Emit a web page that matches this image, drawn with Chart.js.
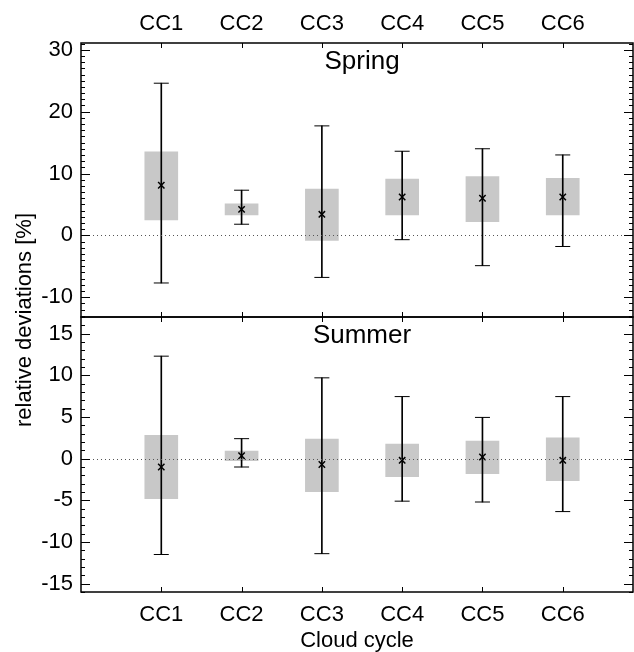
<!DOCTYPE html>
<html>
<head>
<meta charset="utf-8">
<script src="https://cdn.jsdelivr.net/npm/chart.js@4/dist/chart.umd.min.js"></script>
<style>
body { margin: 0; background: #fff; }
#wrap { position: relative; width: 634px; height: 652px; }
canvas { position: absolute; left: 0; top: 0; }
</style>
</head>
<body>
<div id="wrap">
<canvas id="spring" width="634" height="652"></canvas>
<canvas id="summer" width="634" height="652"></canvas>
</div>
<script>
const categories = ['CC1', 'CC2', 'CC3', 'CC4', 'CC5', 'CC6'];

// Spring
const springMean = [8.1, 4.2, 3.4, 6.2, 6.0, 6.2];
const springBoxLow = [2.5, 3.3, -0.8, 3.3, 2.2, 3.3];
const springBoxHigh = [13.5, 5.1, 7.5, 9.1, 9.5, 9.2];
const springMin = [-7.7, 1.8, -6.8, -0.7, -4.9, -1.8];
const springMax = [24.6, 7.3, 17.7, 13.6, 14.0, 13.0];
const springTicks = [-10, 0, 10, 20, 30];

// Summer
const summerMean = [-1.0, 0.35, -0.7, -0.2, 0.2, -0.2];
const summerBoxLow = [-4.8, -0.25, -3.95, -2.15, -1.8, -2.65];
const summerBoxHigh = [2.8, 0.9, 2.35, 1.75, 2.1, 2.5];
const summerMin = [-11.5, -1.0, -11.4, -5.1, -5.2, -6.35];
const summerMax = [12.3, 2.4, 9.7, 7.45, 4.95, 7.45];
const summerTicks = [-15, -10, -5, 0, 5, 10, 15];

const FONT = '"Liberation Sans", Arial, Helvetica, sans-serif';
Chart.defaults.font.family = FONT;
Chart.defaults.font.size = 22;
Chart.defaults.color = '#000';

const framePlugin = {
    id: 'frame',
    afterDatasetsDraw(chart, args, opts) {
        const ctx = chart.ctx;
        const a = chart.chartArea;
        const y0 = Math.round(chart.scales.y.getPixelForValue(0)) + 0.5;
        ctx.save();
        ctx.strokeStyle = '#555';
        ctx.lineWidth = 1;
        ctx.setLineDash([1, 3]);
        ctx.beginPath();
        ctx.moveTo(a.left, y0);
        ctx.lineTo(a.right, y0);
        ctx.stroke();
        ctx.restore();
    },
    afterDraw(chart, args, opts) {
        const ctx = chart.ctx;
        const a = chart.chartArea;
        const xs = chart.scales.x;
        const ys = chart.scales.y;
        ctx.save();
        ctx.strokeStyle = '#000';
        ctx.lineWidth = 1.5;
        ctx.strokeRect(a.left, a.top, a.right - a.left, a.bottom - a.top);
        ctx.lineWidth = 1;
        ctx.beginPath();
        categories.forEach((c, i) => {
            const px = Math.round(xs.getPixelForValue(i + 1)) + 0.5;
            ctx.moveTo(px, a.top);
            ctx.lineTo(px, a.top + 5);
            ctx.moveTo(px, a.bottom);
            ctx.lineTo(px, a.bottom - 5);
        });
        for (let v = Math.ceil(ys.min); v <= Math.floor(ys.max); v++) {
            const py = Math.round(ys.getPixelForValue(v)) + 0.5;
            const len = v % opts.major === 0 ? 9 : 4;
            ctx.moveTo(a.left, py);
            ctx.lineTo(a.left + len, py);
            ctx.moveTo(a.right, py);
            ctx.lineTo(a.right - len, py);
        }
        ctx.stroke();
        ctx.fillStyle = '#000';
        ctx.font = '26px ' + FONT;
        ctx.textAlign = 'center';
        ctx.textBaseline = 'middle';
        ctx.fillText(opts.label, xs.getPixelForValue(3.5), a.top + 19);
        if (opts.yTitle) {
            ctx.font = '22px ' + FONT;
            ctx.translate(25, 320);
            ctx.rotate(-Math.PI / 2);
            ctx.fillText(opts.yTitle, 0, 0);
        }
        ctx.restore();
    }
};

function makePanel(canvasId, p) {
    const xs = categories.map((c, i) => i + 1);
    const caps = xs.map((x, i) => ({ x: x, y: p.max[i] }))
        .concat(xs.map((x, i) => ({ x: x, y: p.min[i] })));
    return new Chart(document.getElementById(canvasId), {
        type: 'bar',
        data: {
            datasets: [{
                label: 'box',
                data: xs.map((x, i) => ({ x: x, y: [p.boxLow[i], p.boxHigh[i]] })),
                backgroundColor: '#c8c8c8',
                barThickness: 33,
                grouped: false,
                order: 4
            }, {
                label: 'range',
                data: xs.map((x, i) => ({ x: x, y: [p.min[i], p.max[i]] })),
                backgroundColor: '#000',
                barThickness: 1,
                grouped: false,
                order: 3
            }, {
                type: 'line',
                label: 'caps',
                data: caps,
                showLine: false,
                pointStyle: 'line',
                pointRadius: 7.5,
                pointBorderWidth: 1,
                borderColor: '#000',
                order: 2
            }, {
                type: 'line',
                label: 'mean',
                data: xs.map((x, i) => ({ x: x, y: p.mean[i] })),
                showLine: false,
                pointStyle: 'crossRot',
                pointRadius: 4.5,
                pointBorderWidth: 1.5,
                borderColor: '#000',
                order: 1
            }]
        },
        options: {
            responsive: false,
            animation: false,
            events: [],
            layout: { padding: p.padding, autoPadding: false },
            plugins: {
                legend: { display: false },
                tooltip: { enabled: false },
                frame: { label: p.label, major: p.major, yTitle: p.yTitle }
            },
            scales: {
                x: {
                    type: 'linear',
                    position: p.xPos,
                    offset: false,
                    min: 0,
                    max: 6.875,
                    afterBuildTicks: s => { s.ticks = xs.map(v => ({ value: v })); },
                    afterFit: s => { s.height = p.xHeight; },
                    ticks: {
                        callback: v => categories[v - 1],
                        padding: p.xPad,
                        maxRotation: 0,
                        autoSkip: false
                    },
                    grid: { display: false, drawTicks: false },
                    border: { display: false },
                    title: p.xTitle
                        ? { display: true, text: p.xTitle, padding: { top: 0, bottom: -2 } }
                        : { display: false }
                },
                y: {
                    type: 'linear',
                    min: p.yMin,
                    max: p.yMax,
                    afterBuildTicks: s => { s.ticks = p.ticks.map(v => ({ value: v })); },
                    afterFit: s => { s.width = 81; },
                    ticks: { padding: 8 },
                    grid: { display: false, drawTicks: false },
                    border: { display: false }
                }
            }
        },
        plugins: [framePlugin]
    });
}

makePanel('spring', {
    label: 'Spring',
    mean: springMean, boxLow: springBoxLow, boxHigh: springBoxHigh,
    min: springMin, max: springMax, ticks: springTicks,
    yMin: -13.2, yMax: 31.1, major: 10,
    xPos: 'top', xHeight: 43, xPad: 6,
    padding: { left: 0, right: 1, top: 0, bottom: 335 }
});

makePanel('summer', {
    label: 'Summer',
    mean: summerMean, boxLow: summerBoxLow, boxHigh: summerBoxHigh,
    min: summerMin, max: summerMax, ticks: summerTicks,
    yMin: -16, yMax: 17, major: 5,
    xPos: 'bottom', xHeight: 60, xPad: 10, xTitle: 'Cloud cycle',
    yTitle: 'relative deviations [%]',
    padding: { left: 0, right: 1, top: 317, bottom: 0 }
});
</script>
</body>
</html>
